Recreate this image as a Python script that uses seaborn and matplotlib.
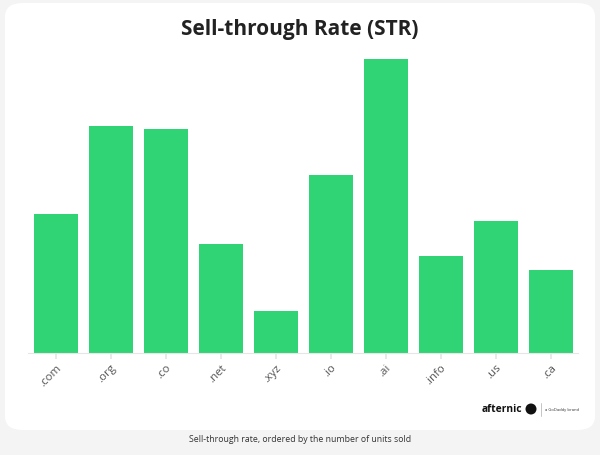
import matplotlib
matplotlib.use("Agg")
import matplotlib.pyplot as plt
from matplotlib.patches import FancyBboxPatch, Ellipse
import seaborn as sns
import pandas as pd

categories = [".com", ".org", ".co", ".net", ".xyz", ".io", ".ai", ".info", ".us", ".ca"]
values = [139, 227, 224, 109, 42, 178, 294, 97, 132, 83]
title = "Sell-through Rate (STR)"
caption = "Sell-through rate, ordered by the number of units sold"

sns.set_theme(style="white")
plt.rcParams['font.family'] = ['Open Sans', 'DejaVu Sans']

fig = plt.figure(figsize=(6, 4.55), dpi=100)
fig.patch.set_facecolor("#f4f4f4")

W, H = 600, 455
panel = FancyBboxPatch((5 / W, 1 - 430 / H), 590 / W, 427 / H,
                       boxstyle="round,pad=0,rounding_size=0.03",
                       transform=fig.transFigure, facecolor="white", edgecolor="none", zorder=-10)
fig.patches.append(panel)

ax = fig.add_axes([28 / W, 1 - 353 / H, 550 / W, 306 / H])
ax.set_facecolor("none")
df = pd.DataFrame({"tld": categories, "str": values})
sns.barplot(data=df, x="tld", y="str", color="#31d474", saturation=1, width=0.8,
            linewidth=0, ax=ax)
ax.set_xlim(-0.5, 9.5)
ax.set_ylim(0, 306)
ax.set_xlabel("")
ax.set_ylabel("")
ax.set_yticks([])
for s in ["top", "right", "left"]:
    ax.spines[s].set_visible(False)
ax.spines["bottom"].set_color("#e6e6e6")
ax.spines["bottom"].set_linewidth(0.8)
ax.tick_params(axis="x", bottom=True, length=4, color="#e6e6e6", pad=3)
for lbl in ax.get_xticklabels():
    lbl.set_rotation(45)
    lbl.set_ha("right")
    lbl.set_va("top")
    lbl.set_rotation_mode("anchor")
    lbl.set_fontsize(8.2)
    lbl.set_color("#555555")

fig.text(0.5, 1 - 30 / H, title, ha="center", va="center", fontsize=15,
         fontweight="bold", color="#222222")
fig.text(0.5, 1 - 440 / H, caption, ha="center", va="center", fontsize=6.3, color="#333333")

# logo
fig.text(482 / W, 1 - 409 / H, "afternic", ha="left", va="center", fontsize=7.4,
         fontweight="bold", color="#111111")
fig.patches.append(Ellipse((531 / W, 1 - 409 / H), 11 / W, 11 / H, transform=fig.transFigure,
                           facecolor="#111111", edgecolor="none"))
fig.lines.append(plt.Line2D([541 / W, 541 / W], [1 - 403 / H, 1 - 416 / H],
                            transform=fig.transFigure, color="#bbbbbb", lw=0.6))
fig.text(545 / W, 1 - 410 / H, "a GoDaddy brand", ha="left", va="center", fontsize=3,
         color="#333333")

fig.savefig("out.png", dpi=100, facecolor=fig.get_facecolor())
